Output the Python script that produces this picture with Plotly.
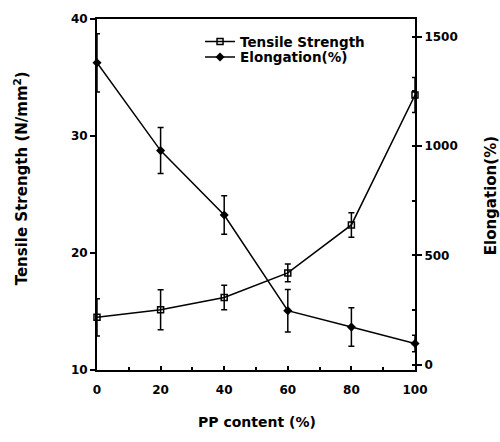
import plotly.graph_objects as go

pp_content = [0, 20, 40, 60, 80, 100]
tensile = [14.5, 15.15, 16.2, 18.3, 22.4, 33.5]
tensile_err = [1.6, 1.7, 1.05, 0.75, 1.05, 1.5]
elongation = [1380, 979, 685, 248, 173, 98]
elongation_err = [133, 105, 88, 97, 88, 38]

FONT = "DejaVu Sans, sans-serif"

fig = go.Figure()
fig.add_trace(go.Scatter(
    x=pp_content, y=tensile, name="Tensile Strength", mode="lines+markers",
    line=dict(color="black", width=1.5),
    marker=dict(symbol="square-open", size=6, color="black", line=dict(width=1.5)),
    error_y=dict(type="data", array=tensile_err, color="black", thickness=1.5, width=3),
    cliponaxis=False, legend="legend",
))
fig.add_trace(go.Scatter(
    x=pp_content, y=elongation, name="Elongation(%)", mode="lines+markers",
    line=dict(color="black", width=1.5),
    marker=dict(symbol="diamond", size=7, color="black"),
    error_y=dict(type="data", array=elongation_err, color="black", thickness=1.5, width=3),
    yaxis="y2", cliponaxis=False, legend="legend2",
))

tickfont = dict(family=FONT, size=12, color="black", weight="bold")
legfont = dict(family=FONT, size=13.5, color="black", weight="bold")

fig.update_layout(
    width=500, height=442,
    margin=dict(l=97, r=85, t=14, b=72),
    paper_bgcolor="white", plot_bgcolor="white",
    font=dict(family=FONT, color="black"),
    showlegend=True,
    legend=dict(x=0.324, y=0.935, xanchor="left", yanchor="middle",
                bgcolor="rgba(0,0,0,0)", font=legfont),
    legend2=dict(x=0.324, y=0.891, xanchor="left", yanchor="middle",
                 bgcolor="rgba(0,0,0,0)", font=legfont),
    xaxis=dict(range=[0, 100], tickvals=[0, 20, 40, 60, 80, 100],
               showline=True, linecolor="black", linewidth=2, mirror=True,
               ticks="inside", ticklen=4, tickwidth=1.5, tickcolor="black",
               minor=dict(dtick=10, ticks="inside", ticklen=3, tickcolor="black"),
               showgrid=False, zeroline=False, tickfont=tickfont,
               ticklabelstandoff=8),
    yaxis=dict(range=[10, 40], tickvals=[10, 20, 30, 40],
               showline=True, linecolor="black", linewidth=2, mirror=True,
               ticks="outside", ticklen=5, tickwidth=1.5, tickcolor="black",
               showgrid=False, zeroline=False, tickfont=tickfont),
    yaxis2=dict(range=[-23, 1580], tickvals=[0, 500, 1000, 1500],
                overlaying="y", side="right",
                showline=True, linecolor="black", linewidth=2,
                ticks="outside", ticklen=5, tickwidth=1.5, tickcolor="black",
                minor=dict(dtick=250, ticks="inside", ticklen=3, tickcolor="black"),
                showgrid=False, zeroline=False, tickfont=tickfont),
    annotations=[
        dict(text="Tensile Strength (N/mm<sup>2</sup>)", xref="paper", yref="paper",
             x=-0.239, y=0.546, xanchor="center", yanchor="middle",
             textangle=-90, showarrow=False,
             font=dict(family=FONT, size=15, color="black", weight="bold")),
        dict(text="Elongation(%)", xref="paper", yref="paper",
             x=1.239, y=0.495, xanchor="center", yanchor="middle",
             textangle=-90, showarrow=False,
             font=dict(family=FONT, size=15, color="black", weight="bold")),
        dict(text="PP content (%)", xref="paper", yref="paper",
             x=0.503, y=-0.147, xanchor="center", yanchor="middle",
             showarrow=False,
             font=dict(family=FONT, size=14, color="black", weight="bold")),
    ],
)

fig.write_html("out.html")
